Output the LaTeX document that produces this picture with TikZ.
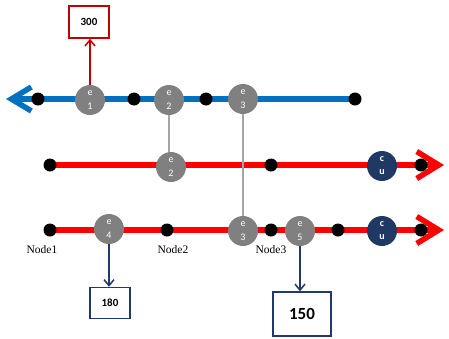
\documentclass[tikz,border=0pt]{standalone}
\usepackage{fontspec}
\setmainfont{Liberation Serif}
\newfontfamily\calibri{Carlito}
\usetikzlibrary{arrows.meta,backgrounds}
\definecolor{LineBlue}{RGB}{0,112,192}
\definecolor{LineRed}{RGB}{255,0,0}
\definecolor{EvGray}{RGB}{128,128,128}
\definecolor{LinkGray}{RGB}{165,165,165}
\definecolor{CuNavy}{RGB}{31,56,100}
\definecolor{BoxRed}{RGB}{192,0,0}
\definecolor{BoxNavy}{RGB}{32,56,110}

\begin{document}
\begin{tikzpicture}[x=1pt, y=-1pt,
    dot/.style={circle, fill=black, inner sep=0pt, minimum size=13pt},
    ev/.style={circle, fill=EvGray, text=white, inner sep=0pt, minimum size=30pt,
              align=center, font=\calibri\fontsize{10}{14}\selectfont},
    cu/.style={ev, fill=CuNavy, font=\calibri\bfseries\fontsize{10}{13}\selectfont},
    val/.style={rectangle, draw, line width=1.5pt, fill=white, inner sep=0pt,
              font=\calibri\bfseries\fontsize{11}{13}\selectfont},
    lbl/.style={font=\fontsize{11.5}{13}\selectfont},
    blueline/.style={draw=LineBlue, line width=5.5pt,
              -{Straight Barb[length=20pt, width=24pt]}},
    redline/.style={draw=LineRed, line width=5.5pt,
              -{Straight Barb[length=22pt, width=27pt]}},
    link/.style={draw=LinkGray, line width=1.5pt},
    a/.style={-{Straight Barb[length=6pt, width=10pt]}, line width=1.5pt}
]
    \useasboundingbox (0,0) rectangle (449,338);

    % top (blue) line
    \coordinate (bl0) at (6,99);
    \node[dot] (b1) at (38,99) {};
    \node[dot] (b2) at (134,99) {};
    \node[dot] (b3) at (206,99) {};
    \node[dot] (b4) at (355,99) {};

    % middle (red) line
    \node[dot] (m1) at (50,165) {};
    \node[dot] (m2) at (271,165) {};
    \node[dot] (m3) at (421,165) {};
    \coordinate (ml0) at (444,165);

    % bottom (red) line
    \node[dot] (d1) at (50,230) {};
    \node[dot] (d2) at (167,230) {};
    \node[dot] (d3) at (271,230) {};
    \node[dot] (d4) at (338,230) {};
    \node[dot] (d5) at (421,230) {};
    \coordinate (dl0) at (444,230);

    \begin{scope}[on background layer]
        \draw[blueline] (b4.center) -- (bl0);
        \draw[redline] (m1.center) -- (ml0);
        \draw[redline] (d1.center) -- (dl0);
    \end{scope}

    % events
    \node[ev] (e1) at (90,100) {e\\1};
    \node[ev] (e2) at (169,100) {e\\2};
    \node[ev] (e3) at (243,99) {e\\3};
    \node[ev] (e2m) at (171,167) {e\\2};
    \node[cu] (cu1) at (382,166) {c\\u};
    \node[ev] (e4) at (109,229) {e\\4};
    \node[ev] (e3d) at (243,231) {e\\3};
    \node[ev] (e5) at (300,231) {e\\5};
    \node[cu] (cu2) at (382,231) {c\\u};

    % links between lines
    \draw[link] (e2) -- (e2.center |- e2m.north);
    \draw[link] (e3) -- (e3d);

    % values
    \node[val, draw=BoxRed, minimum width=40pt, minimum height=32pt] (v300) at (89,22) {300};
    \node[val, draw=BoxNavy, minimum width=40pt, minimum height=31pt] (v180) at (110,303) {180};
    \node[val, draw=BoxNavy, minimum width=58pt, minimum height=44pt,
          font=\calibri\bfseries\fontsize{17}{19}\selectfont] (v150) at (302,314) {150};
    \draw[a, draw=BoxRed] (e1) -- (e1 |- v300.south);
    \draw[a, draw=BoxNavy] (e4) -- (e4 |- v180.north);
    \draw[a, draw=BoxNavy] (e5) -- (e5 |- v150.north);

    % node labels
    \node[lbl] (n1) at (42,250) {Node1};
    \node[lbl] (n2) at (173,250) {Node2};
    \node[lbl] (n3) at (271,250) {Node3};
\end{tikzpicture}
\end{document}
